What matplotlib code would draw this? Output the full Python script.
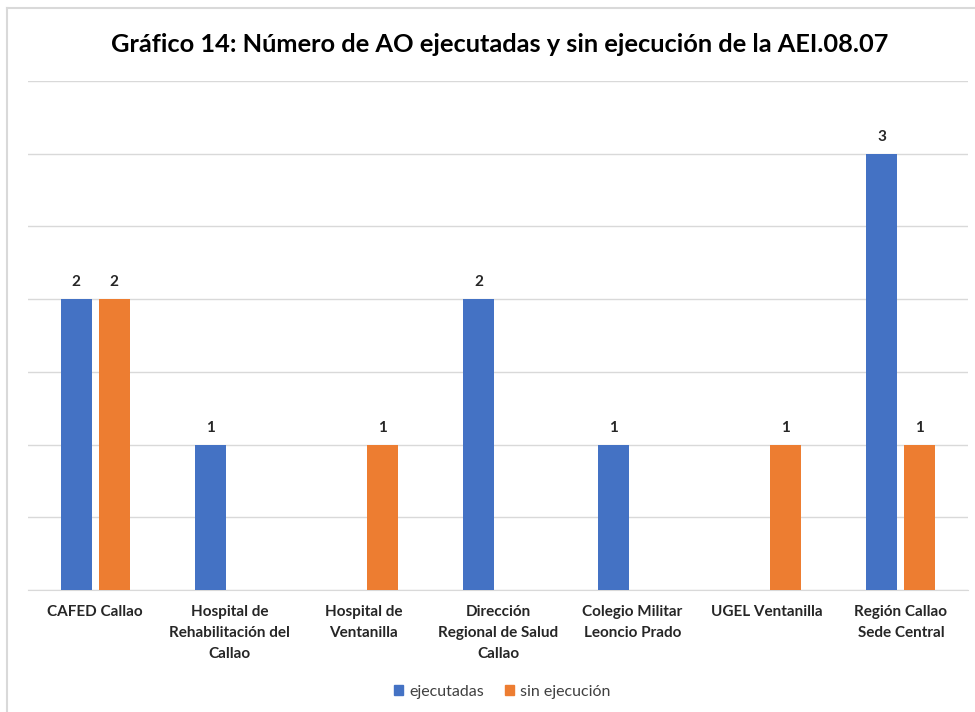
import matplotlib
matplotlib.use("Agg")
import matplotlib.pyplot as plt
from matplotlib.lines import Line2D
from matplotlib.patches import Patch
import numpy as np

categories = ["CAFED Callao", "Hospital de\nRehabilitación del\nCallao", "Hospital de\nVentanilla",
              "Dirección\nRegional de Salud\nCallao", "Colegio Militar\nLeoncio Prado", "UGEL Ventanilla",
              "Región Callao\nSede Central"]
ejecutadas = [2, 1, 0, 2, 1, 0, 3]
sin_ejecucion = [2, 0, 1, 0, 0, 1, 1]
series_names = ["ejecutadas", "sin ejecución"]
title = "Gráfico 14: Número de AO ejecutadas y sin ejecución de la AEI.08.07"

blue = "#4472C4"
orange = "#ED7D31"
plt.rcParams['font.family'] = ['Lato', 'DejaVu Sans']

W, H = 975, 712
fig = plt.figure(figsize=(W/100, H/100), dpi=100)
ax = fig.add_axes([28/W, 1-590/H, (968-28)/W, (590-81)/H])

x = np.arange(len(categories))
bw = 0.23
off = 0.142
b1 = ax.bar(x - off, ejecutadas, bw, color=blue, zorder=3)
b2 = ax.bar(x + off, sin_ejecucion, bw, color=orange, zorder=3)
for bars, vals in ((b1, ejecutadas), (b2, sin_ejecucion)):
    for r, v in zip(bars, vals):
        if v:
            ax.annotate(str(v), (r.get_x() + r.get_width()/2, v), xytext=(0, 7),
                        textcoords="offset points", ha="center", va="bottom",
                        fontsize=11, fontweight="bold", color="#262626")

ax.set_xlim(-0.5, len(categories) - 0.5)
ax.set_ylim(0, 3.5)
ax.set_yticks(np.arange(0, 3.51, 0.5))
ax.yaxis.grid(True, color="#d9d9d9", linewidth=1, zorder=0)
ax.tick_params(axis="y", left=False, labelleft=False)
ax.tick_params(axis="x", length=0, pad=11)
ax.set_xticks(x)
ax.set_xticklabels(categories, fontsize=11, fontweight="bold", color="#262626", linespacing=1.62, va="top")
for s in ["top", "right", "left"]:
    ax.spines[s].set_visible(False)
ax.spines["bottom"].set_color("#d9d9d9")

fig.text(500/W, 1-45/H, title, ha="center", va="center", fontsize=18.3, fontweight="bold", color="#000000")

handles = [Patch(color=blue), Patch(color=orange)]
fig.legend(handles, series_names, loc="center", bbox_to_anchor=(502/W, 1-692/H), ncol=2,
           frameon=False, fontsize=11.5, handlelength=0.6, handleheight=0.6, handletextpad=0.35,
           columnspacing=1.3, labelcolor="#404040")

fig.add_artist(Line2D([6.5/W, 6.5/W], [0, 1-8/H], transform=fig.transFigure, color="#d9d9d9", lw=1.5))
fig.add_artist(Line2D([6.5/W, 1], [1-8/H, 1-8/H], transform=fig.transFigure, color="#d9d9d9", lw=1.5))

fig.savefig("out.png", dpi=100)
